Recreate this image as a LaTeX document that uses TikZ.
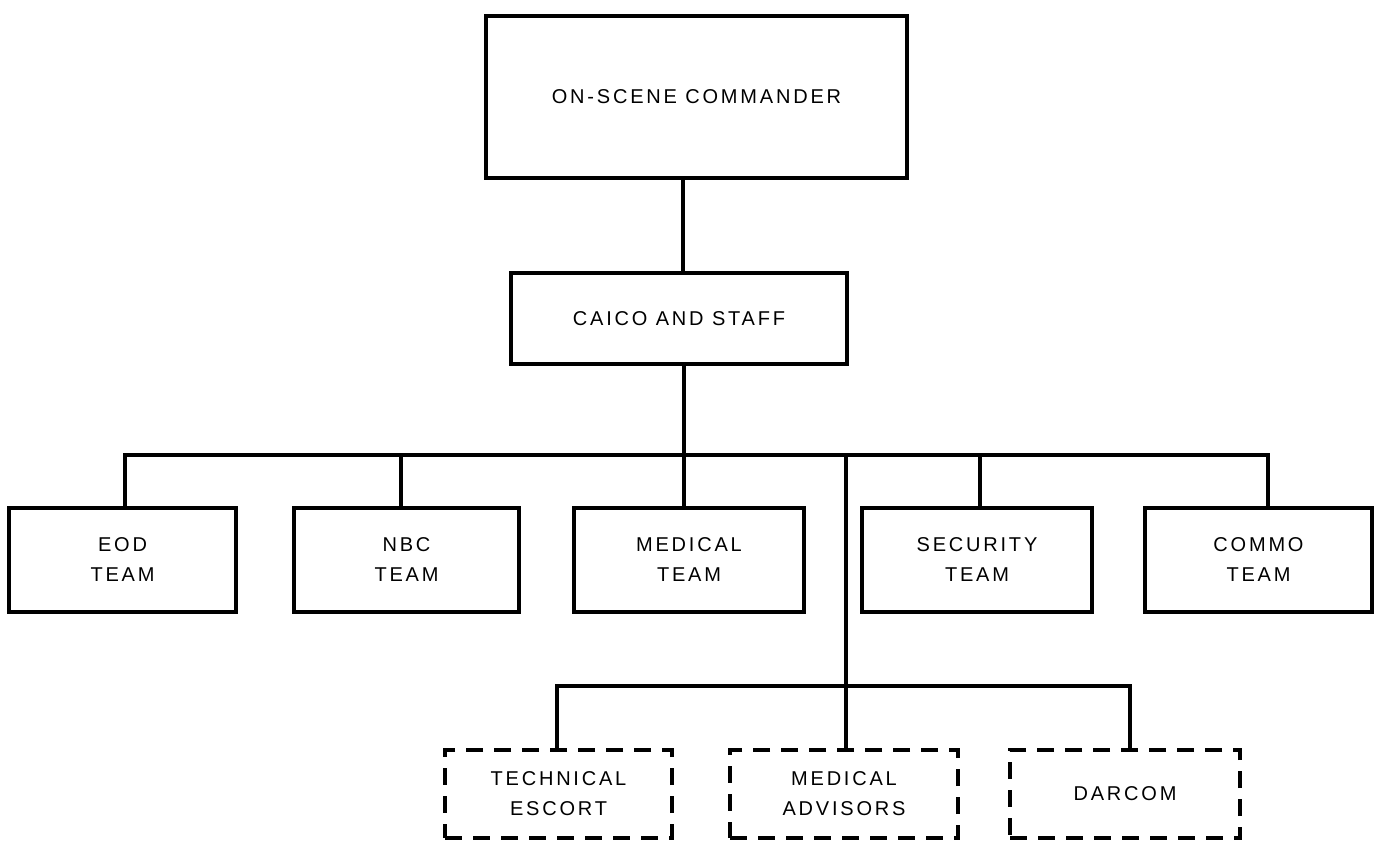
\documentclass[tikz,border=0pt]{standalone}
\usepackage{fontspec}
\setmainfont{Liberation Sans}[LetterSpace=14]
\begin{document}
\begin{tikzpicture}[x=1pt,y=-1pt,
  box/.style={draw,line width=4.5pt,inner sep=0pt,align=center,
    font=\fontsize{20}{30}\selectfont},
  dbox/.style={box,line width=4pt,dash pattern=on 17pt off 11pt},
  conn/.style={line width=4.5pt,line join=miter}]
\fill[white] (0,0) rectangle (1380,863);
\useasboundingbox (0,0) rectangle (1380,863);
\node[box,minimum width=421pt,minimum height=162pt] (osc) at (696.5,97) {ON-SCENE COMMANDER};
\node[box,minimum width=336pt,minimum height=91pt] (caico) at (679,318.5) {CAICO AND STAFF};
\node[box,minimum width=227pt,minimum height=104pt] (eod) at (122.5,560) {EOD\\TEAM};
\node[box,minimum width=225pt,minimum height=104pt] (nbc) at (406.5,560) {NBC\\TEAM};
\node[box,minimum width=230pt,minimum height=104pt] (med) at (689,560) {MEDICAL\\TEAM};
\node[box,minimum width=230pt,minimum height=104pt] (sec) at (977,560) {SECURITY\\TEAM};
\node[box,minimum width=227pt,minimum height=104pt] (commo) at (1258.5,560) {COMMO\\TEAM};
\node[dbox,minimum width=227pt,minimum height=88pt] (tech) at (558.5,794) {TECHNICAL\\ESCORT};
\node[dbox,minimum width=228pt,minimum height=88pt] (madv) at (844,794) {MEDICAL\\ADVISORS};
\node[dbox,minimum width=230pt,minimum height=88pt] (darcom) at (1125,794) {DARCOM};
\coordinate (bus) at (684,455);
\coordinate (bus2) at (846,686);
\draw[conn] (osc.south -| 683,0) -- (caico.north -| 683,0);
\draw[conn] (caico.south -| bus) -- (bus);
\draw[conn] (eod.north -| 125,0) |- (1268,455) -- (commo.north -| 1268,0);
\draw[conn] (nbc.north -| 401,0) -- (401,455);
\draw[conn] (med.north -| bus) -- (bus);
\draw[conn] (sec.north -| 980,0) -- (980,455);
\draw[conn] (846,455) -- (madv.north -| bus2);
\draw[conn] (tech.north -| 557,0) |- (1130,686) -- (darcom.north -| 1130,0);
\end{tikzpicture}
\end{document}
